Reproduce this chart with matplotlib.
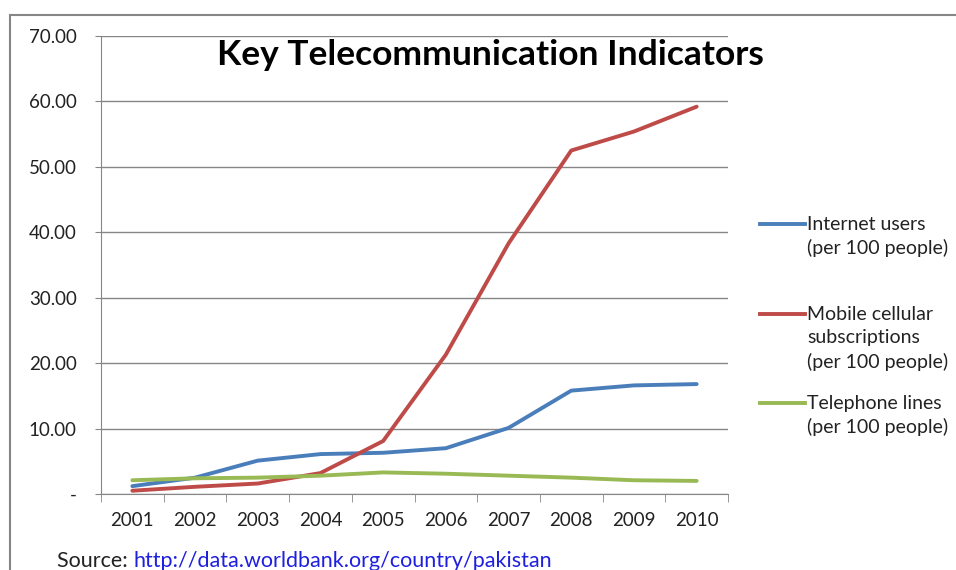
import matplotlib
matplotlib.use("Agg")
import matplotlib.pyplot as plt
from matplotlib.lines import Line2D
from matplotlib.patches import Rectangle

# ── data ──────────────────────────────────────────────────────────────────────
years = ["2001", "2002", "2003", "2004", "2005", "2006", "2007", "2008", "2009", "2010"]
internet = [1.2, 2.5, 5.1, 6.1, 6.3, 7.0, 10.1, 15.8, 16.6, 16.8]
mobile = [0.5, 1.1, 1.6, 3.2, 8.1, 21.3, 38.3, 52.5, 55.4, 59.2]
telephone = [2.1, 2.4, 2.5, 2.8, 3.3, 3.1, 2.8, 2.5, 2.1, 2.0]

series_labels = [
    "Internet users\n(per 100 people)",
    "Mobile cellular\nsubscriptions\n(per 100 people)",
    "Telephone lines\n(per 100 people)",
]
series_colors = ["#4A7EBB", "#BE4B48", "#98B954"]
y_ticks = [0, 10, 20, 30, 40, 50, 60, 70]

plt.rcParams["font.family"] = ["Lato", "DejaVu Sans"]
W, H = 956, 570
fig = plt.figure(figsize=(W / 100, H / 100), dpi=100)

# outer chart frame (runs off the right and bottom edges)
fig.patches.append(Rectangle((10 / W, -0.1), 1.0, (H - 15) / H + 0.1,
                             transform=fig.transFigure, fill=False,
                             edgecolor="#868686", lw=1.5))

ax = fig.add_axes([101 / W, 76 / H, 627 / W, 458 / H])
x = range(len(years))
for vals, col in zip([internet, mobile, telephone], series_colors):
    ax.plot(x, vals, color=col, lw=2.8, solid_capstyle="round", zorder=3)

ax.set_xlim(-0.5, len(years) - 0.5)
ax.set_ylim(0, 70)
ax.set_yticks(y_ticks)
ax.set_yticklabels(["-"] + [f"{v:.2f}" for v in y_ticks[1:]])
ax.set_xticks(list(x))
ax.set_xticklabels(years)
ax.set_xticks([i - 0.5 for i in range(len(years) + 1)], minor=True)
ax.tick_params(axis="x", which="major", length=0, pad=13, labelsize=13.5, colors="#222222")
ax.tick_params(axis="x", which="minor", length=6, color="#868686")
ax.tick_params(axis="y", length=4.5, color="#868686", pad=13, labelsize=13.5, labelcolor="#222222")
ax.yaxis.grid(True, color="#868686", lw=1)
ax.set_axisbelow(True)
for side in ["top", "right"]:
    ax.spines[side].set_visible(False)
for side in ["left", "bottom"]:
    ax.spines[side].set_color("#868686")

fig.text(490 / W, 1 - 55 / H, "Key Telecommunication Indicators",
         ha="center", va="center", fontsize=25.5, fontweight="bold")

# legend: handle sits level with the first text line
legend_tops = [224, 314, 403]
for lab, col, ty in zip(series_labels, series_colors, legend_tops):
    fig.add_artist(Line2D([760 / W, 805 / W], [1 - ty / H] * 2,
                          transform=fig.transFigure, color=col, lw=2.8))
    for k, line in enumerate(lab.split("\n")):
        fig.text(807 / W, 1 - (ty + 24 * k) / H, line, ha="left", va="center",
                 fontsize=14, color="#222222")

src = fig.text(57 / W, 1 - 561 / H, "Source: ", ha="left", va="center",
               fontsize=15.5, color="#222222")
fig.canvas.draw()
bb = src.get_window_extent()
fig.text(bb.x1 / W, 1 - 561 / H, "http://data.worldbank.org/country/pakistan",
         ha="left", va="center", fontsize=15.5, color="#1F1FE0")

fig.savefig("out.png", dpi=100)
